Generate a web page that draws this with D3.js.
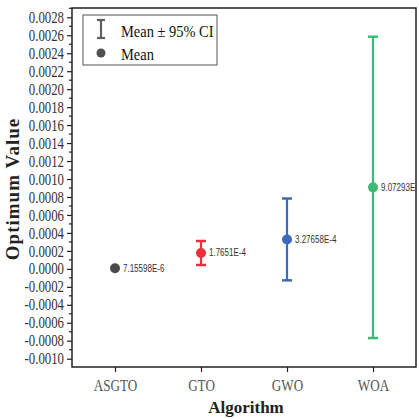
<!DOCTYPE html>
<html><head><meta charset="utf-8">
<script src="https://cdn.jsdelivr.net/npm/d3@7"></script>
<style>body{margin:0;background:#fff;}svg{display:block;}</style>
</head><body>
<svg id="c" width="419" height="419"></svg>
<script>
const categories = ["ASGTO", "GTO", "GWO", "WOA"];
const means = [7.15598e-6, 1.7651e-4, 3.27658e-4, 9.07293e-4];
const ciLow = [7.15598e-6, 4.3e-5, -1.28e-4, -7.70e-4];
const ciHigh = [7.15598e-6, 3.10e-4, 7.83e-4, 2.584e-3];
const meanLabels = ["7.15598E-6", "1.7651E-4", "3.27658E-4", "9.07293E-4"];
const colors = ["#4a4a4a", "#ee2f3a", "#3b6bbb", "#3dba77"];
const yTicks = [0.0028,0.0026,0.0024,0.0022,0.0020,0.0018,0.0016,0.0014,0.0012,0.0010,0.0008,0.0006,0.0004,0.0002,0,-0.0002,-0.0004,-0.0006,-0.0008,-0.0010];

const svg = d3.select("#c");
const L = 72, R = 416, T = 8, B = 367;
const ppu = (358.7-17.3)/0.0038;
const y = d3.scaleLinear().domain([-0.0010 - (B-358.7)/ppu, 0.0028 + (17.3-T)/ppu]).range([B, T]);
const x = d3.scalePoint().domain(categories).range([L, R]).padding(0.5);
const SERIF = "'Liberation Serif', 'Times New Roman', serif";

// frame
svg.append("rect").attr("x", L).attr("y", T).attr("width", R-L).attr("height", B-T)
  .attr("fill","none").attr("stroke","#222").attr("stroke-width",1.5);

// squeeze helper: horizontally condense text around its anchor point
function squeeze(sel, k) {
  sel.each(function(){
    const t = d3.select(this);
    const x0 = +t.attr("x") || 0, y0 = +t.attr("y") || 0;
    t.attr("x", 0).attr("y", 0).attr("transform", `translate(${x0},${y0}) scale(${k},1)`);
  });
}

// y axis
const fmt = d => d3.format(".4f")(d).replace("−","-");
const yAxis = d3.axisLeft(y).tickValues(yTicks).tickSize(5).tickPadding(3).tickFormat(fmt);
const gy = svg.append("g").attr("transform",`translate(${L},0)`).call(yAxis);
gy.select(".domain").remove();
gy.selectAll("text").attr("font-family",SERIF).attr("font-size",16).attr("fill","#333").call(squeeze, 0.8);
gy.selectAll("line").attr("stroke","#222").attr("stroke-width",1.2);
// minor ticks
const minor = d3.range(-0.0011, 0.00291, 0.0002).map(v=>+v.toFixed(5)).filter(v=>y(v)>=T && y(v)<=B);
svg.append("g").selectAll("line").data(minor).join("line")
  .attr("x1",L-3).attr("x2",L).attr("y1",d=>y(d)).attr("y2",d=>y(d))
  .attr("stroke","#222").attr("stroke-width",1.2);

// x axis
const xAxis = d3.axisBottom(x).tickSize(5).tickPadding(8);
const gx = svg.append("g").attr("transform",`translate(0,${B})`).call(xAxis);
gx.select(".domain").remove();
gx.selectAll("text").attr("font-family",SERIF).attr("font-size",16).attr("fill","#555").call(squeeze, 0.82);
gx.selectAll("line").attr("stroke","#222").attr("stroke-width",1.2);

// axis titles
svg.append("text").attr("x",246).attr("y",413).attr("text-anchor","middle")
  .attr("font-family",SERIF).attr("font-weight","bold").attr("font-size",17).attr("fill","#222").text("Algorithm");
svg.append("text").attr("transform","translate(19,189) rotate(-90)").attr("text-anchor","middle")
  .attr("font-family",SERIF).attr("font-weight","bold").attr("font-size",19).attr("letter-spacing",1).attr("fill","#222").text("Optimum Value");

// clip
svg.append("clipPath").attr("id","clip").append("rect").attr("x",L).attr("y",T).attr("width",R-L-1).attr("height",B-T);
const plot = svg.append("g").attr("clip-path","url(#clip)");

categories.forEach((c,i)=>{
  const cx = x(c);
  const g = plot.append("g");
  if (ciHigh[i] !== ciLow[i]) {
    g.append("line").attr("x1",cx).attr("x2",cx).attr("y1",y(ciLow[i])).attr("y2",y(ciHigh[i]))
      .attr("stroke",colors[i]).attr("stroke-width",2.2);
    [ciLow[i], ciHigh[i]].forEach(v=>{
      g.append("line").attr("x1",cx-5).attr("x2",cx+5).attr("y1",y(v)).attr("y2",y(v))
        .attr("stroke",colors[i]).attr("stroke-width",2.5);
    });
  }
  g.append("circle").attr("cx",cx).attr("cy",y(means[i])).attr("r",5).attr("fill",colors[i]);
  g.append("text").attr("x",cx+8).attr("y",y(means[i])+3.5)
    .attr("font-family","'Liberation Sans', Arial, sans-serif").attr("font-size",10).attr("fill","#333")
    .text(meanLabels[i]).call(squeeze, 0.8);
});

// legend
const lg = svg.append("g");
lg.append("rect").attr("x",83).attr("y",15).attr("width",134).attr("height",50)
  .attr("fill","#fff").attr("stroke","#555").attr("stroke-width",1);
lg.append("line").attr("x1",101).attr("x2",101).attr("y1",20).attr("y2",38).attr("stroke","#606060").attr("stroke-width",2.2);
lg.append("line").attr("x1",97).attr("x2",105).attr("y1",20).attr("y2",20).attr("stroke","#606060").attr("stroke-width",2.2);
lg.append("line").attr("x1",97).attr("x2",105).attr("y1",38).attr("y2",38).attr("stroke","#606060").attr("stroke-width",2.2);
lg.append("circle").attr("cx",101).attr("cy",53).attr("r",4.5).attr("fill","#505050");
lg.append("text").attr("x",121).attr("y",37).attr("font-family",SERIF).attr("font-size",17).attr("fill","#111").text("Mean ± 95% CI").call(squeeze, 0.85);
lg.append("text").attr("x",121).attr("y",60).attr("font-family",SERIF).attr("font-size",17).attr("fill","#111").text("Mean").call(squeeze, 0.85);
</script>
</body></html>
